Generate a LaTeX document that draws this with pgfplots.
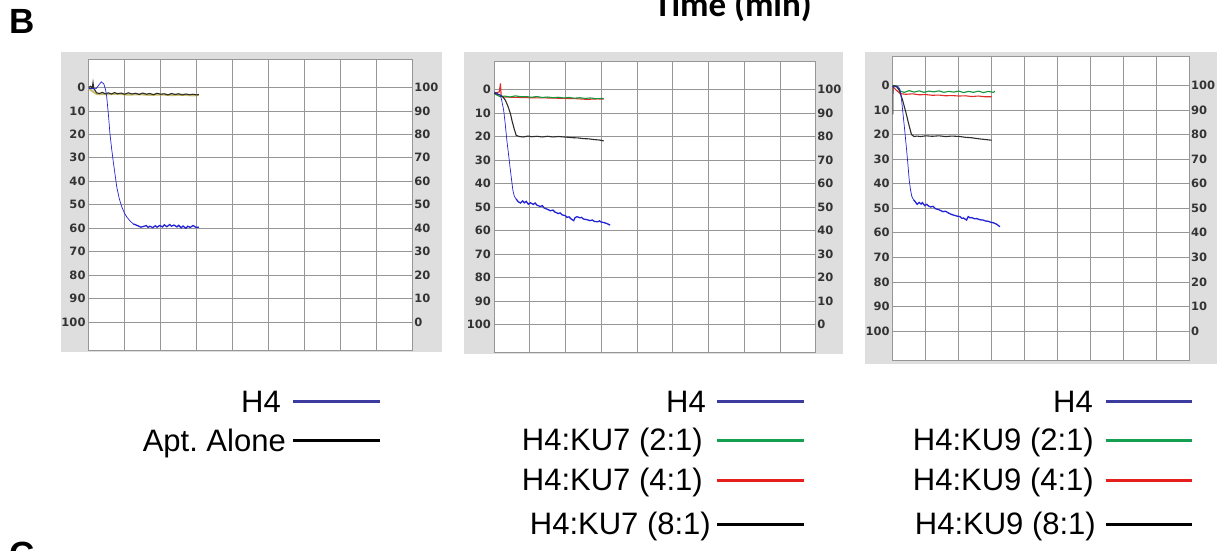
\documentclass[border=0pt]{standalone}
\usepackage{pgfplots}
\pgfplotsset{compat=1.18}
\usepackage{fontspec}
\setmainfont{Liberation Sans}
\newfontfamily\tickfont{DejaVu Sans}
\newfontfamily\titlefont{Carlito}
\definecolor{bgray}{RGB}{222,222,222}
\definecolor{gridc}{RGB}{150,150,150}
\definecolor{pblue}{RGB}{35,35,215}
\definecolor{pblack}{RGB}{45,45,45}
\definecolor{pgreen}{RGB}{20,150,60}
\definecolor{pred}{RGB}{225,45,40}
\definecolor{polive}{RGB}{190,175,70}
\definecolor{lnavy}{RGB}{60,60,160}
\definecolor{lgreen}{RGB}{20,160,80}
\definecolor{lred}{RGB}{230,30,30}
\newcommand\tickf{\tickfont\bfseries\fontsize{11.5}{13}\selectfont}
\newcommand\legf{\fontsize{31}{36}\selectfont}
\pgfplotsset{
  panel/.style={scale only axis, anchor=south west,
    xmin=0, xmax=9, ymin=-12, ymax=112, y dir=reverse,
    xtick={0,1,...,9}, xticklabels={},
    ytick={0,10,...,100}, yticklabels={0,10,20,30,40,50,60,70,80,90,100},
    grid=major, major grid style={gridc, line width=0.7pt},
    axis line style={gridc, line width=0.9pt},
    major tick length=0pt,
    /pgf/number format/assume math mode=true,
    yticklabel style={font=\tickf, text=black!80, inner sep=0pt, xshift=-3pt},
    axis background/.style={fill=white}},
  rpanel/.style={scale only axis, anchor=south west,
    xmin=0, xmax=9, ymin=-12, ymax=112,
    axis x line=none, axis y line*=right,
    axis line style={gridc, line width=0.9pt},
    ytick={0,10,...,100}, yticklabels={0,10,20,30,40,50,60,70,80,90,100},
    major tick length=0pt,
    /pgf/number format/assume math mode=true,
    yticklabel style={font=\tickf, text=black!80, inner sep=0pt, xshift=1.5pt}},
}
\begin{document}
\frenchspacing
\begin{tikzpicture}[x=1pt,y=1pt]
\useasboundingbox (0pt,0pt) rectangle (1217pt,550pt);
% grey panels
\fill[bgray] (61pt,198pt) rectangle (442pt,498pt);
\fill[bgray] (464pt,196pt) rectangle (843.3pt,498pt);
\fill[bgray] (865pt,186pt) rectangle (1217pt,497.5pt);
% labels
\node[anchor=base west, inner sep=0pt, font=\bfseries\fontsize{35}{40}\selectfont] at (9.5pt,516.7pt) {B};
\node[anchor=base, inner sep=0pt, font=\titlefont\bfseries\fontsize{35}{40}\selectfont] at (733pt,533.3pt) {Time (min)};
\node[anchor=base west, inner sep=0pt, font=\bfseries\fontsize{35}{40}\selectfont] at (9.5pt,-16.7pt) {C};

% ---------------- Panel 1 ----------------
\begin{axis}[panel, at={(88.7pt,200pt)}, width=324pt, height=290.7pt]
\addplot[polive, line width=2pt, opacity=0.8] table {
0 0.5
0.22 2.8
0.5 2.9
0.8 2.7
1.1 3.1
1.4 2.9
1.7 3.2
2.0 3.0
2.3 3.3
2.6 3.1
2.9 3.4
3.06 3.2
};
\addplot[pblack, line width=1.1pt] table {
0 0
0.05 -0.5
0.1 0.2
0.12 -2
0.14 0.4
0.22 2.3
0.3 2.6
0.38 2.1
0.46 2.7
0.55 2.3
0.63 2.8
0.72 2.2
0.8 2.7
0.9 2.4
1.0 2.9
1.1 2.3
1.2 2.8
1.3 2.5
1.4 3.0
1.5 2.4
1.6 2.9
1.7 2.6
1.8 3.1
1.9 2.5
2.0 2.9
2.1 2.7
2.2 3.2
2.3 2.6
2.4 3.0
2.5 2.7
2.6 3.2
2.7 2.8
2.8 3.1
2.9 2.9
3.0 3.2
3.06 3.0
};
\addplot[pblue, line width=0.7pt] table {
0 0.4
0.1 0.5
0.2 0.6
0.28 -1
0.35 -2.4
0.42 -1.5
0.47 1
0.5 4
0.55 12
0.59 19.7
0.64 26.5
0.69 32.5
0.74 38
0.78 42.5
0.85 47.5
0.92 51
1.0 53.8
1.06 55.3
1.15 57
1.24 58.2
};
\addplot[pblue, line width=1.3pt] table {
1.24 58.2
1.35 58.9
1.45 59.6
1.52 59.3
1.6 58.9
1.65 59.7
1.7 59.2
1.78 59.8
1.85 59.0
1.9 59.6
1.97 58.9
2.05 59.5
2.1 58.6
2.17 59.4
2.25 58.5
2.3 59.2
2.37 58.7
2.45 59.5
2.5 58.8
2.57 59.9
2.62 59.1
2.7 60.1
2.75 59.2
2.82 59.7
2.9 58.9
2.97 59.6
3.06 59.6
};
\end{axis}
\begin{axis}[rpanel, at={(88.7pt,200pt)}, width=324pt, height=290.7pt]
\end{axis}

% ---------------- Panel 2 ----------------
\begin{axis}[panel, at={(494pt,197.3pt)}, width=321.7pt, height=291.4pt]
\addplot[pred, line width=1.1pt] table {
0 1.7
0.15 1.0
0.18 -2.6
0.2 2.5
0.25 3.2
0.5 3.3
1.0 3.5
1.5 3.6
2.0 3.8
2.3 3.9
2.6 4.2
2.9 4.0
3.07 4.1
};
\addplot[pgreen, line width=1.1pt] table {
0 1.7
0.18 3.1
0.3 2.8
0.45 3.2
0.6 2.7
0.75 3.1
0.9 3.0
1.05 3.3
1.2 3.0
1.35 3.4
1.5 3.2
1.65 3.5
1.8 3.3
1.95 3.6
2.1 3.4
2.25 3.7
2.4 3.5
2.55 3.8
2.7 3.6
2.85 3.9
3.07 3.8
};
\addplot[pblack, line width=1.1pt] table {
0 1.5
0.18 2.4
0.25 3.2
0.32 4.6
0.4 7.5
0.46 10.3
0.5 13
0.55 16
0.62 19.5
0.7 20
0.83 20.2
0.95 19.8
1.05 20.1
1.2 19.9
1.35 20.2
1.5 19.9
1.65 20.2
1.8 20.0
2.04 20.3
2.2 20.5
2.35 20.6
2.5 20.9
2.65 21.0
2.8 21.3
2.95 21.5
3.07 21.9
};
\addplot[pblue, line width=0.7pt] table {
0 1
0.18 2.4
0.22 5
0.27 8.8
0.31 14
0.36 21.7
0.41 28
0.46 34.5
0.5 39.5
0.53 43
0.57 45.5
0.62 46.6
};
\addplot[pblue, line width=1.3pt] table {
0.62 46.6
0.68 47.8
0.74 48.3
0.8 47.4
0.85 48.2
0.9 47.6
0.96 48.8
1.02 48.2
1.1 48.9
1.15 48.3
1.2 49.2
1.3 49.8
1.35 49.4
1.4 50.4
1.5 51
1.58 51.6
1.65 51.3
1.7 52.1
1.8 52.8
1.85 52.5
1.9 53.3
2.0 53.7
2.04 54.4
2.1 54.2
2.15 55
2.23 55.8
2.27 54.5
2.32 54.1
2.4 54.6
2.45 54.4
2.5 55.1
2.6 55.4
2.69 55.8
2.75 55.5
2.8 56.1
2.9 56.3
2.95 55.9
3.0 56.4
3.07 56.6
3.15 57
3.25 57.7
};
\end{axis}
\begin{axis}[rpanel, at={(494pt,197.3pt)}, width=321.7pt, height=291.4pt]
\end{axis}

% ---------------- Panel 3 ----------------
\begin{axis}[panel, at={(892.7pt,189.5pt)}, width=296.8pt, height=304.5pt]
\addplot[pred, line width=1.1pt] table {
0 0.5
0.22 3.3
0.4 3.6
0.6 3.4
0.8 3.8
1.0 3.7
1.2 4.0
1.4 3.9
1.6 4.2
1.8 4.1
2.0 4.3
2.2 4.2
2.4 4.5
2.6 4.3
2.8 4.6
3.0 4.6
};
\addplot[pgreen, line width=1.1pt] table {
0 0.5
0.1 0
0.22 2.3
0.35 2.8
0.5 2.1
0.65 2.7
0.8 2.2
0.95 2.8
1.1 2.3
1.25 2.6
1.4 2.2
1.55 2.8
1.7 2.4
1.85 2.7
2.0 2.3
2.15 2.9
2.3 2.4
2.45 2.8
2.6 2.3
2.75 2.9
2.9 2.4
3.05 2.8
3.1 2.4
};
\addplot[pblack, line width=1.1pt] table {
0 11.8
0.01 0
0.12 0.5
0.2 2
0.3 6
0.4 11
0.5 16.5
0.57 20
0.65 20.8
0.73 20.6
0.85 20.8
1.0 20.5
1.2 20.7
1.4 20.5
1.6 20.8
1.8 20.6
2.04 20.8
2.2 21.1
2.4 21.3
2.6 21.7
2.8 22.0
3.0 22.3
};
\addplot[pblue, line width=0.7pt] table {
0 0.5
0.17 0.5
0.22 1.6
0.27 6
0.32 12.5
0.37 19
0.42 26
0.46 32
0.5 38.4
0.54 42.5
0.58 45.2
0.63 46.5
};
\addplot[pblue, line width=1.3pt] table {
0.63 46.5
0.68 47.3
0.74 48.4
0.8 47.6
0.86 48.3
0.9 47.7
0.97 48.9
1.03 48.4
1.1 49.2
1.15 49.5
1.22 49.2
1.3 50.2
1.4 50.6
1.53 51.4
1.6 51.2
1.7 52
1.78 52.5
1.85 52.8
1.95 53.2
2.04 53.4
2.1 54.1
2.15 54
2.24 54.8
2.29 53.4
2.35 53.9
2.4 53.8
2.48 54.3
2.55 54.2
2.65 54.7
2.74 54.8
2.82 55.2
2.9 55.3
2.97 55.7
3.05 55.9
3.15 56.5
3.25 57.5
};
\end{axis}
\begin{axis}[rpanel, at={(892.7pt,189.5pt)}, width=296.8pt, height=304.5pt]
\end{axis}

% ---------------- Legends ----------------
\begin{scope}[every node/.style={anchor=base east, inner sep=0pt, font=\legf}]
% panel 1
\node at (281pt,137.8pt) {H4};
\draw[lnavy, line width=3pt] (293pt,148.3pt) -- (380pt,148.3pt);
\node at (286pt,98.8pt) {Apt. Alone};
\draw[black, line width=3pt] (293pt,109.3pt) -- (380pt,109.3pt);
% panel 2
\node at (706pt,137.8pt) {H4};
\draw[lnavy, line width=3pt] (717pt,148.3pt) -- (804pt,148.3pt);
\node at (703pt,99.5pt) {H4:KU7 (2:1)};
\draw[lgreen, line width=3pt] (717pt,110pt) -- (804pt,110pt);
\node at (703pt,59.5pt) {H4:KU7 (4:1)};
\draw[lred, line width=3pt] (717pt,70pt) -- (804pt,70pt);
\node at (711pt,15.5pt) {H4:KU7 (8:1)};
\draw[black, line width=3pt] (717pt,26pt) -- (804pt,26pt);
% panel 3
\node at (1093pt,137.8pt) {H4};
\draw[lnavy, line width=3pt] (1105.7pt,148.3pt) -- (1191.7pt,148.3pt);
\node at (1094pt,99.5pt) {H4:KU9 (2:1)};
\draw[lgreen, line width=3pt] (1105.7pt,110pt) -- (1191.7pt,110pt);
\node at (1094pt,59.5pt) {H4:KU9 (4:1)};
\draw[lred, line width=3pt] (1105.7pt,70pt) -- (1191.7pt,70pt);
\node at (1096pt,15.5pt) {H4:KU9 (8:1)};
\draw[black, line width=3pt] (1105.7pt,26pt) -- (1191.7pt,26pt);
\end{scope}
\end{tikzpicture}
\end{document}
